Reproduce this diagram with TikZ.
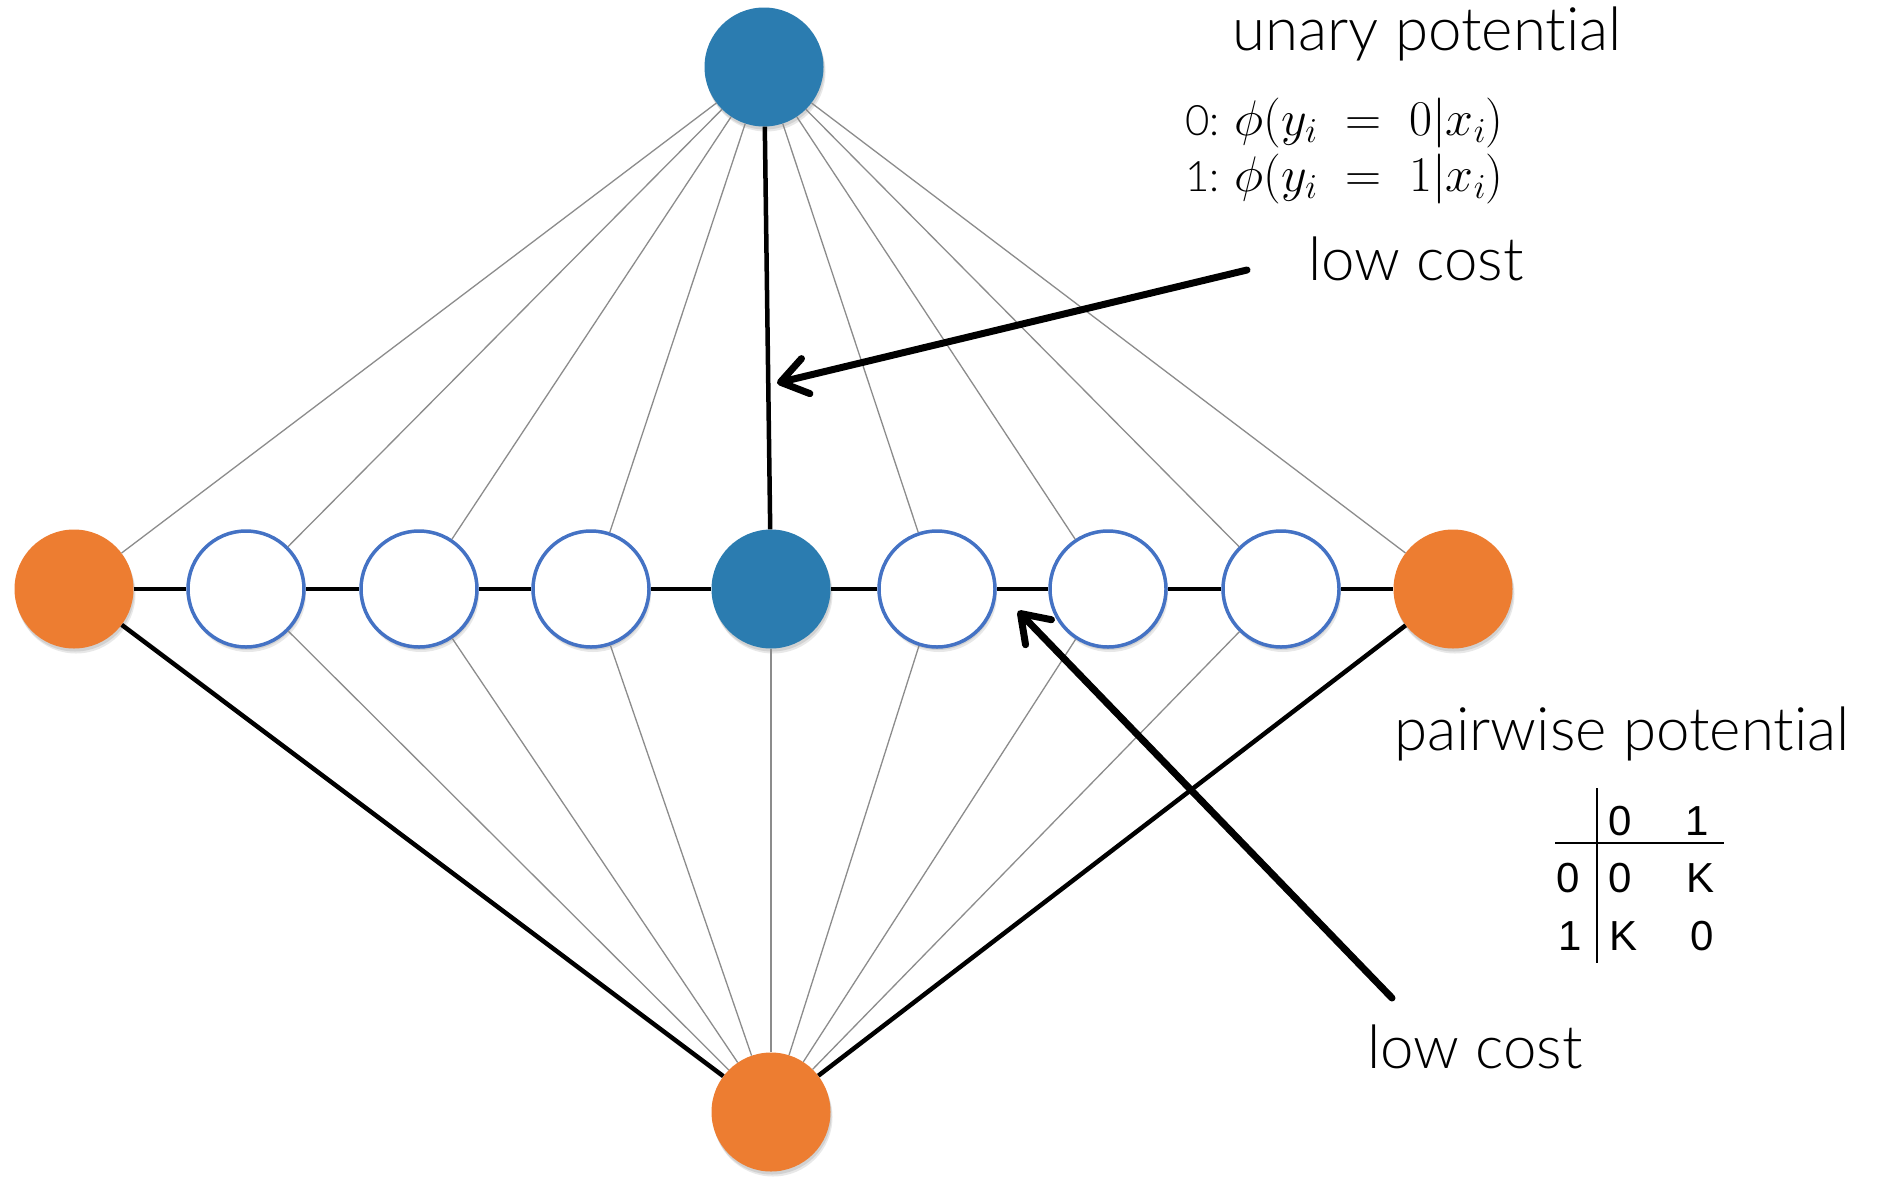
\RequirePackage{fix-cm}
\documentclass[tikz,border=0pt]{standalone}
\usepackage{fontspec}
\setmainfont{Lato Light}[RawFeature=-liga]
\newfontfamily\arialf{Liberation Sans}
\usetikzlibrary{arrows.meta,shadows}
\definecolor{nodeblue}{RGB}{43,124,176}
\definecolor{nodeorange}{RGB}{237,125,49}
\definecolor{rimblue}{RGB}{68,114,196}
\begin{document}
\begin{tikzpicture}[x=1pt,y=-1pt,
  vnode/.style={circle, inner sep=0pt, minimum size=119pt,
    drop shadow={opacity=0.18, shadow xshift=2pt, shadow yshift=-5pt},
    drop shadow={opacity=0.22, shadow xshift=1pt, shadow yshift=-3pt}},
  bluenode/.style={vnode, fill=nodeblue},
  orangenode/.style={vnode, fill=nodeorange},
  whitenode/.style={vnode, fill=white, draw=rimblue, line width=3.5pt, minimum size=116pt},
  thinedge/.style={draw=black!45, line width=1.3pt},
  thickedge/.style={draw=black, line width=4.5pt},
  callout/.style={line width=7pt, line cap=round,
    -{Straight Barb[length=26pt,width=36pt,line cap=round,line join=round]}},
  bigtext/.style={anchor=base, inner sep=0pt, font=\fontsize{60}{72}\selectfont},
  mathtext/.style={anchor=base west, inner sep=0pt, font=\fontsize{42}{50}\selectfont},
  tabtext/.style={anchor=base, inner sep=0pt, font=\arialf\fontsize{42}{50}\selectfont}]
\useasboundingbox (0,0) rectangle (1893,1176);
\fill[white] (0,0) rectangle (1893,1176);

% nodes
\node[bluenode] (top) at (764,67) {};
\node[orangenode] (m1) at (74,589) {};
\node[whitenode] (m2) at (246,589) {};
\node[whitenode] (m3) at (419,589) {};
\node[whitenode] (m4) at (591,589) {};
\node[bluenode] (m5) at (771,589) {};
\node[whitenode] (m6) at (937,589) {};
\node[whitenode] (m7) at (1108,589) {};
\node[whitenode] (m8) at (1281,589) {};
\node[orangenode] (m9) at (1453,589) {};
\node[orangenode] (bot) at (771,1112) {};

% edges
\foreach \i in {1,2,3,4,6,7,8,9} \draw[thinedge] (top) -- (m\i);
\foreach \i in {2,...,8} \draw[thinedge] (bot) -- (m\i);
\draw[thickedge] (top) -- (m5);
\draw[thickedge] (bot) -- (m1);
\draw[thickedge] (bot) -- (m9);
\foreach \i/\j in {1/2,2/3,3/4,4/5,5/6,6/7,7/8,8/9} \draw[thickedge] (m\i) -- (m\j);

% labels
\node[bigtext] (unary) at (1427,50) {unary potential};
\node[mathtext] (u0) at (1185,135) {0: {\fontsize{50}{60}\selectfont$\phi(y_i \;=\; 0|x_i)$}};
\node[mathtext] (u1) at (1185,191) {1: {\fontsize{50}{60}\selectfont$\phi(y_i \;=\; 1|x_i)$}};
\node[bigtext] (low1) at (1416,280) {low cost};
\node[bigtext] (pair) at (1622,750) {pairwise potential};
\node[bigtext] (low2) at (1475,1068) {low cost};

% table
\draw[line width=1.5pt] (1597,788) -- (1597,963);
\draw[line width=1.5pt] (1555,843) -- (1724,843);
\node[tabtext] (h0) at (1620,835) {0};
\node[tabtext] (h1) at (1697,835) {1};
\node[tabtext] (r0) at (1568,892) {0};
\node[tabtext] (c00) at (1620,892) {0};
\node[tabtext] (c01) at (1700,892) {K};
\node[tabtext] (r1) at (1570,950) {1};
\node[tabtext] (c10) at (1623,950) {K};
\node[tabtext] (c11) at (1702,950) {0};

% callout arrows
\coordinate (a1s) at (1247,270);
\coordinate (a1e) at (777,383);
\coordinate (a2s) at (1392,998);
\coordinate (a2e) at (1018,611);
\draw[callout] (a1s) -- (a1e);
\draw[callout] (a2s) -- (a2e);
\end{tikzpicture}
\end{document}
